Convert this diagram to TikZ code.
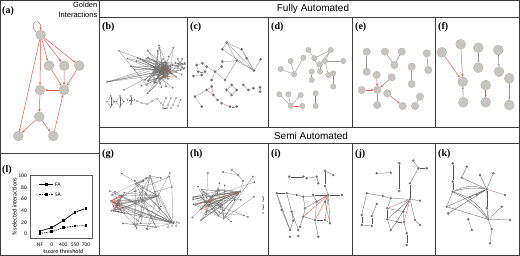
\documentclass[tikz,border=0pt]{standalone}
\usepackage{fontspec}
\setmainfont{Liberation Serif}
\setsansfont{Liberation Sans}
\newfontfamily\calib{Carlito}
\usetikzlibrary{arrows.meta}
\pgfdeclarelayer{paper}
\pgfdeclarelayer{bg}
\pgfsetlayers{paper,bg,main}
\definecolor{frm}{RGB}{60,60,60}
\definecolor{nfill}{RGB}{200,196,192}
\definecolor{redE}{RGB}{225,90,68}
\definecolor{grayE}{RGB}{150,150,150}
\definecolor{darkE}{RGB}{85,85,85}
\definecolor{hairE}{RGB}{105,105,105}
\definecolor{dotc}{RGB}{115,115,115}
\begin{document}
\begin{tikzpicture}[x=1pt,y=-1pt,
  frame/.style={draw=frm,line width=0.8pt},
  plab/.style={font=\bfseries\fontsize{10}{10}\selectfont,anchor=west,inner sep=0},
  head/.style={font=\sffamily\fontsize{10}{10}\selectfont,inner sep=0},
  bignode/.style={circle,fill=nfill,draw=nfill!85!black,line width=0.2pt,inner sep=0,minimum size=#1},
  dotnode/.style={circle,fill=dotc,inner sep=0,minimum size=#1},
  redarrow/.style={draw=redE,line width=0.5pt,-{Stealth[length=2.6pt,width=2.2pt]}},
  grayarrow/.style={draw=grayE,line width=0.6pt,-{Stealth[length=2.4pt,width=2pt]}},
  grayline/.style={draw=grayE,line width=0.6pt},
  thinline/.style={draw=darkE,line width=0.3pt},
  thinred/.style={draw=redE,line width=0.35pt},
  hair/.style={draw=hairE,line width=0.2pt},
  chart/.style={font=\calib\fontsize{5.5}{6}\selectfont,inner sep=0},
  mk/.style={rectangle,fill=black,inner sep=0,minimum size=2.6pt},
]
\useasboundingbox (0,0) rectangle (520,256);
\begin{pgfonlayer}{paper}
\fill[white] (0,0) rectangle (520,256);
\end{pgfonlayer}

% ---------- frames ----------
\draw[frame] (0.5,0.5) rectangle (519.5,255.2);
\draw[frame] (99,0.5) -- (99,255.2);
\draw[frame] (0.5,153) -- (99,153);
\draw[frame] (99,17) -- (519.5,17);
\draw[frame] (99,127) -- (519.5,127);
\draw[frame] (99,143) -- (519.5,143);
\foreach \x in {187,268,352,435}{
  \draw[frame] (\x,17) -- (\x,127);
  \draw[frame] (\x,143) -- (\x,255.2);
}

% ---------- headers and labels ----------
\node[head] (hfa) at (313,9) {Fully Automated};
\node[head] (hsa) at (311,135.5) {Semi Automated};
\node[font=\sffamily\fontsize{7.5}{10}\selectfont,align=right,anchor=north east,inner sep=0] (gold) at (97.5,1.5) {Golden\\Interactions};
\node[plab] (la) at (2,11) {(a)};
\node[plab] (lb) at (102,27) {(b)};
\node[plab] (lc) at (190,27) {(c)};
\node[plab] (ld) at (271,27) {(d)};
\node[plab] (le) at (355,27) {(e)};
\node[plab] (lf) at (438,27) {(f)};
\node[plab] (lg) at (102,154) {(g)};
\node[plab] (lh) at (190,154) {(h)};
\node[plab] (li) at (271,154) {(i)};
\node[plab] (lj) at (355,154) {(j)};
\node[plab] (lk) at (438,154) {(k)};
\node[plab] (ll) at (2,170) {(l)};

% ---------- (a) golden ----------
\foreach \n/\x/\y in {a1/40.7/35, a2/49/65.7, a3/64.3/65.7, a4/79.3/65.7, a5/40/90,
  a6/64/90, a7/39.3/116.7, a8/18.3/136, a9/53.3/136}
  \node[bignode=10pt] (\n) at (\x,\y) {};
\begin{pgfonlayer}{bg}
\draw[redarrow] (a1.150) .. controls +(-10,-11) and +(2,-13) .. (a1.95);
\foreach \a/\b in {a1/a2, a1/a3, a1/a4, a1/a5, a1/a8, a2/a6, a3/a6, a4/a6, a6/a5,
  a5/a7, a7/a8, a7/a9, a9/a6}
  \draw[redarrow] (\a) -- (\b);
\end{pgfonlayer}

% ---------- (f) ----------
\foreach \n/\x/\y in {f1/441.7/52.3, f2/460.7/44.3, f3/478.3/47.7, f4/498.3/50, f5/462.7/81.7,
  f6/478.3/67.7, f7/499/71.7, f8/485.7/85, f9/509.3/78.3, f10/463.3/102.3, f11/485.7/102.3, f12/509.3/105}
  \node[bignode=10pt] (\n) at (\x,\y) {};
\begin{pgfonlayer}{bg}
\foreach \a/\b in {f1/f5, f2/f5, f8/f11} \draw[redarrow] (\a) -- (\b);
\foreach \a/\b in {f3/f6, f4/f7, f10/f5, f9/f12} \draw[grayarrow] (\a) -- (\b);
\end{pgfonlayer}

% ---------- (e) ----------
\foreach \n/\x/\y in {e1/366.7/51.7, e2/385/51.7, e3/401.7/51.7, e4/394.3/65, e5/426.7/53.3,
  e6/428.3/70, e7/366.7/71.7, e8/411.7/66.7, e9/411.7/84, e10/376.7/75, e11/391.7/77.3,
  e12/361.7/90, e13/377.3/90, e14/387.3/93.3, e15/377.3/105, e16/402.7/106, e17/420/96.7, e18/415/106}
  \node[bignode=7.5pt] (\n) at (\x,\y) {};
\begin{pgfonlayer}{bg}
\foreach \a/\b in {e12/e13, e10/e13, e11/e13, e14/e16} \draw[redarrow] (\a) -- (\b);
\foreach \a/\b in {e1/e7, e2/e4, e3/e4, e5/e6, e8/e9, e13/e15, e17/e18} \draw[grayline] (\a) -- (\b);
\end{pgfonlayer}

% ---------- (d) ----------
\foreach \n/\x/\y in {d1/308.3/50, d2/330.7/50, d3/303.3/57.7, d4/290.7/61, d5/280.7/69, d6/294/74.3,
  d7/314.3/58.3, d8/320/64.3, d9/325/61, d10/320/71.7, d11/328.3/75, d12/343.3/61, d13/311.7/71.7,
  d14/311.7/80, d15/333.3/73.3, d16/333.3/86.7, d17/279.3/94.3, d18/288.3/94.3, d19/300.7/95,
  d20/290.7/106, d21/302.3/106, d22/315.7/93.3, d23/315.7/106}
  \node[bignode=5.5pt] (\n) at (\x,\y) {};
\begin{pgfonlayer}{bg}
\foreach \a/\b in {d4/d6, d3/d6, d5/d6, d1/d7, d7/d2, d7/d10, d2/d9, d9/d11, d9/d12, d8/d10,
  d2/d8, d13/d14, d15/d16, d17/d20, d18/d20, d19/d20} \draw[grayline,line width=0.45pt] (\a) -- (\b);
\foreach \a/\b in {d20/d21, d22/d23} \draw[thinred,line width=0.5pt] (\a) -- (\b);
\end{pgfonlayer}

% ---------- (c) ----------
\foreach \n/\x/\y in {c1/226.7/42.7, c2/241.7/49.3, c3/254/70.7, c4/260.7/59.3, c5/236.7/60.7,
  c6/222.3/49.3, c7/222.3/61.7, c8/246.7/58.3, c9/196.7/65, c10/202.3/63.3, c11/206.7/66.7,
  c12/205/71.7, c13/198.3/71.7, c14/201.7/75, c15/193.3/76, c16/215/71.7, c17/225/80,
  c18/211.7/80, c19/221.7/66.7, c20/195/96.7, c21/201.7/106.7, c22/206.7/90, c23/211.7/86.7,
  c24/213.3/95, c25/217.7/100, c26/231.7/85, c27/236.7/90, c28/231.7/95, c29/226.7/90,
  c30/243.3/85, c31/248.3/90, c32/253.3/88.3, c33/260/87.3, c34/260/91.7, c35/221.7/103.3,
  c36/230/106.7, c37/236.7/106.7}
  \node[dotnode=3pt] (\n) at (\x,\y) {};
\begin{pgfonlayer}{bg}
\foreach \a/\b in {c1/c2, c1/c3, c2/c3, c2/c8, c5/c3, c8/c3, c4/c3, c6/c3, c1/c5, c7/c5, c6/c1,
  c9/c10, c10/c11, c11/c12, c12/c13, c13/c9, c12/c14, c14/c15, c11/c16, c16/c19, c19/c7,
  c16/c17, c16/c18, c17/c5, c20/c22, c20/c21, c24/c25, c26/c27, c27/c28, c28/c29, c29/c26,
  c30/c31, c31/c32, c33/c34, c36/c37}
  \draw[thinline,draw=darkE!70] (\a) -- (\b);
\foreach \a/\b in {c22/c23, c24/c23, c22/c24, c35/c36} \draw[thinred] (\a) -- (\b);
\end{pgfonlayer}

% ---------- (b) hairball ----------
\pgfmathsetseed{11}
\foreach \i in {1,...,30}{
  \pgfmathsetmacro\xx{161+10*rand}
  \pgfmathsetmacro\yy{70+9*rand}
  \node[dotnode=2pt] (bc\i) at (\xx,\yy) {};
}
\foreach \i in {1,...,38}{
  \pgfmathsetmacro\aa{360*rnd}
  \pgfmathsetmacro\rr{11+15*rnd}
  \pgfmathsetmacro\xx{154+1.25*\rr*cos(\aa)}
  \pgfmathsetmacro\yy{68+\rr*sin(\aa)}
  \node[dotnode=2pt] (bp\i) at (\xx,\yy) {};
}
\foreach \n/\x/\y in {bs1/107/82, bs2/119/51, bs3/124/90, br1/172/74, br2/176/77, br3/168/79,
  bst0/180/63, bst1/184.5/63, bst2/182.2/59, bst3/177.8/59, bst4/175.5/63, bst5/177.8/67, bst6/182.2/67}
  \node[dotnode=2pt] (\n) at (\x,\y) {};
\begin{pgfonlayer}{bg}
\foreach \i in {1,...,38}{
  \pgfmathtruncatemacro\j{random(1,30)}
  \draw[hair] (bp\i) -- (bc\j);
}
\foreach \i in {1,...,30}{
  \pgfmathtruncatemacro\j{random(1,30)}
  \pgfmathtruncatemacro\k{random(1,30)}
  \pgfmathtruncatemacro\m{random(1,38)}
  \draw[hair] (bc\i) -- (bc\j) (bc\i) -- (bc\k) (bc\i) -- (bp\m);
}
\foreach \a/\b in {bs1/bc1, bs1/bc2, bs1/bc5, bs1/bc9, bs1/bc14, bs2/bc3, bs2/bp1, bs3/bc6,
  bst0/bst1, bst0/bst2, bst0/bst3, bst0/bst4, bst0/bst5, bst0/bst6, bst0/bc7}
  \draw[hair] (\a) -- (\b);
\foreach \a/\b in {bc1/br1, bc2/br2, bc3/br3, bc4/br1, br1/br2, bc8/br2, bc10/br3}
  \draw[thinred] (\a) -- (\b);
\end{pgfonlayer}
% (b) small components
\foreach \n/\x/\y in {bq1/110.7/96, bq2/107/101.7, bq3/114.3/101.7, bq4/110.7/107,
  bq5/120/96, bq6/116.3/101.7, bq7/123.7/101.7, bq8/120/107,
  bt1/131/96, bt2/127.5/100, bt3/134.5/100, bt4/131/104,
  bk1/137/101, bk2/142/103, bk3/147/104, bk4/152/101, bk5/157/99, bk6/161/103,
  bm1/163/105, bm2/166/98, bm3/168/105, bm4/171/98, bm5/173/105, bm6/176/98, bm7/178/106, bm8/180.5/100,
  bz1/163/108, bz2/167/108, bz3/171/108}
  \node[dotnode=1.8pt] (\n) at (\x,\y) {};
\begin{pgfonlayer}{bg}
\foreach \a/\b in {bq1/bq2, bq1/bq3, bq2/bq4, bq3/bq4, bq1/bq4, bq5/bq6, bq5/bq7, bq6/bq8, bq7/bq8, bq5/bq8,
  bt1/bt4, bt2/bt3, bk1/bk2, bk2/bk3, bk3/bk4, bk4/bk5, bk5/bk6, bm1/bm2, bm3/bm4, bm5/bm6, bm7/bm8, bz1/bz2}
  \draw[hair] (\a) -- (\b);
\end{pgfonlayer}

% ---------- (g) ----------
\pgfmathsetseed{7}
\foreach \n/\x/\y in {gh1/158/196, gh2/173/223, gh3/136/184, gh4/111/201, gh5/150/176}
  \node[dotnode=2.4pt] (\n) at (\x,\y) {};
\foreach \i in {1,...,16}{
  \pgfmathsetmacro\xx{118+9*rand}
  \pgfmathsetmacro\yy{201+12*rand}
  \node[dotnode=2pt] (gc\i) at (\xx,\yy) {};
}
\foreach \i in {1,...,32}{
  \pgfmathsetmacro\xx{143+35*rand}
  \pgfmathsetmacro\yy{201+28*rand}
  \node[dotnode=2pt] (gp\i) at (\xx,\yy) {};
}
\foreach \n/\x/\y in {gs1/168/227, gs2/170/222, gs3/172/226, gs4/174/222, gs5/176/226, gs6/177/222, gs7/179/223}
  \node[dotnode=1.6pt] (\n) at (\x,\y) {};
\begin{pgfonlayer}{bg}
\foreach \i in {1,...,16}{
  \pgfmathtruncatemacro\j{random(1,16)}
  \pgfmathtruncatemacro\k{random(1,2)}
  \draw[hair] (gc\i) -- (gh\k) (gc\i) -- (gc\j);
}
\foreach \i in {1,...,32}{
  \pgfmathtruncatemacro\j{random(1,5)}
  \draw[hair] (gp\i) -- (gh\j);
}
\foreach \i in {1,...,12}{
  \pgfmathtruncatemacro\k{random(1,32)}
  \draw[hair] (gp\i) -- (gp\k);
}
\foreach \i in {1,...,8}{
  \draw[thinred] (gc\i) -- (gh4);
}
\foreach \a/\b in {gh1/gh2, gh3/gh2, gh5/gh2, gh3/gh1, gs1/gs2, gs3/gs4, gs5/gs6}
  \draw[hair] (\a) -- (\b);
\end{pgfonlayer}

% ---------- (h) ----------
\pgfmathsetseed{23}
\foreach \n/\x/\y in {hh1/240/191.7, hh2/222/205, ht1/223/172, ht2/238/175, ht3/243/181, ht4/232/170}
  \node[dotnode=2.4pt] (\n) at (\x,\y) {};
\foreach \i in {1,...,22}{
  \pgfmathsetmacro\xx{210+17*rand}
  \pgfmathsetmacro\yy{206+17*rand}
  \node[dotnode=2pt] (hc\i) at (\xx,\yy) {};
}
\foreach \i in {1,...,16}{
  \pgfmathsetmacro\xx{224+33*rand}
  \pgfmathsetmacro\yy{199+27*rand}
  \node[dotnode=2pt] (hp\i) at (\xx,\yy) {};
}
\foreach \n/\x/\y in {hv1/263/197, hv2/263/201, hv3/263/205, hv4/263/209, hv5/263/213}
  \node[dotnode=1.8pt] (\n) at (\x,\y) {};
\begin{pgfonlayer}{bg}
\foreach \i in {1,...,22}{
  \pgfmathtruncatemacro\j{random(1,22)}
  \draw[hair] (hc\i) -- (hh1) (hc\i) -- (hc\j);
}
\foreach \i in {1,...,16}{
  \pgfmathtruncatemacro\j{random(1,22)}
  \draw[hair] (hp\i) -- (hc\j);
}
\foreach \i in {1,...,8}{
  \draw[hair] (hc\i) -- (hh2);
}
\foreach \a/\b in {ht1/ht2, ht2/ht3, ht4/ht2, ht3/hh1, hv1/hv2, hv3/hv4}
  \draw[hair] (\a) -- (\b);
\draw[thinred] (hh1) -- (hc3) (hc5) -- (hc9);
\end{pgfonlayer}

% ---------- (i) ----------
\foreach \n/\x/\y in {i1/289.3/176.7, i2/303.3/176.7, i3/276.7/193.3, i4/286.7/193.3, i5/296.7/195,
  i6/281.7/210, i7/291.7/211.7, i8/290/230, i9/298.3/230, i10/290/236.7, i11/298.3/236,
  i12/293.3/220.7, i13/316.7/176.7, i14/325/170.7, i15/325/186, i16/333.3/175, i17/306.7/178.3,
  i18/318.3/183.3, i19/328.3/195, i20/341.7/195, i21/313.3/195, i22/303.3/196.7, i23/305/208.3,
  i24/316.7/201.7, i25/325/201.7, i26/303.3/216.7, i27/315/220, i28/325/220, i29/330/223.3,
  i30/318.3/236.7, i31/300/226.7}
  \node[dotnode=2.8pt] (\n) at (\x,\y) {};
\begin{pgfonlayer}{bg}
\foreach \a/\b in {i1/i2, i3/i6, i6/i8, i4/i7, i7/i9, i3/i4, i4/i5, i5/i22, i8/i12, i12/i7,
  i22/i19, i21/i19, i19/i20, i14/i15, i15/i19, i13/i18, i17/i13, i16/i14, i19/i23, i19/i28,
  i19/i29, i23/i26, i26/i27, i27/i28, i28/i29, i27/i30, i31/i26, i22/i23, i21/i24, i3/i8}
  \draw[thinline] (\a) -- (\b);
\foreach \a/\b in {i19/i26, i19/i27, i24/i27, i25/i29, i19/i24, i19/i25}
  \draw[thinred] (\a) -- (\b);
\end{pgfonlayer}

% ---------- (j) ----------
\foreach \n/\x/\y in {j1/376.7/173.3, j2/390.7/172.7, j3/399.3/163.3, j4/399.3/191, j5/413.3/160.7,
  j6/418.3/168.3, j7/426.7/168.3, j8/410/183.3, j9/366.7/193.3, j10/382.7/196, j11/390.7/198.3,
  j12/410/199.3, j13/420/200.7, j14/361.7/215, j15/376.7/204, j16/387.3/208.3, j17/371.7/216,
  j18/371.7/226, j19/361.7/225, j20/387.3/219.3, j21/403.3/211.7, j22/415/220, j23/396.7/221.7,
  j24/404/221.7, j25/420/225, j26/390.7/230, j27/406.7/233.3, j28/406.7/245}
  \node[dotnode=2.8pt] (\n) at (\x,\y) {};
\begin{pgfonlayer}{bg}
\foreach \a/\b in {j1/j2, j3/j4, j5/j6, j6/j7, j6/j8, j8/j12, j9/j14, j14/j19, j9/j10, j15/j17,
  j17/j18, j18/j19, j10/j11, j11/j12, j12/j13, j12/j20, j12/j23, j12/j22, j16/j20, j20/j23,
  j20/j26, j23/j26, j24/j27, j27/j28, j22/j25, j23/j24, j11/j16, j12/j21, j16/j21}
  \draw[thinline] (\a) -- (\b);
\foreach \a/\b in {j12/j16, j12/j24, j21/j24}
  \draw[thinred] (\a) -- (\b);
\end{pgfonlayer}

% ---------- (k) ----------
\foreach \n/\x/\y in {k1/452.7/163.3, k2/466.7/166.7, k3/461.7/177.7, k4/480/175, k5/493.3/173.3,
  k6/452.7/181.7, k7/486.7/189.3, k8/452.7/191.7, k9/470/196.7, k10/476.7/195, k11/505/195,
  k12/446.7/206.7, k13/448.3/213.3, k14/486.7/208.3, k15/501.7/206.7, k16/468.3/219.3,
  k17/471.7/230, k18/488.3/219.3, k19/491.7/229.3, k20/490/243.3, k21/510/220}
  \node[dotnode=2.8pt] (\n) at (\x,\y) {};
\begin{pgfonlayer}{bg}
\foreach \a/\b in {k1/k6, k6/k8, k2/k3, k3/k7, k4/k7, k5/k7, k7/k12, k7/k9, k7/k14, k7/k18,
  k8/k12, k12/k18, k13/k7, k18/k19, k19/k20, k18/k21, k16/k17, k14/k18, k10/k7}
  \draw[thinline] (\a) -- (\b);
\draw[thinline] (k7) to[bend right=12] (k8);
\draw[thinline] (k7) to[bend right=22] (k8);
\draw[thinline] (k8) to[bend left=10] (k18);
\draw[thinline] (k8) to[bend left=20] (k18);
\foreach \a/\b in {k7/k11, k15/k18}
  \draw[thinred] (\a) -- (\b);
\end{pgfonlayer}

% ---------- (l) chart ----------
\draw[draw=gray!70!black,line width=0.4pt] (30,175.7) rectangle (91.7,238.5);
\foreach \v/\y in {100/175.7, 80/187.3, 60/199, 40/210.7, 20/222.3, 0/234}
  \node[chart,anchor=east] (yt\v) at (27,\y) {\v};
\foreach \n/\t/\x in {x1/NF/40, x2/0/51.7, x3/400/63.3, x4/550/75, x5/700/86}
  \node[chart] (\n) at (\x,244.3) {\t};
\node[chart,font=\calib\fontsize{6}{6}\selectfont] (xtitle) at (63.3,251) {tscore threshold};
\node[chart,font=\calib\fontsize{6.2}{6}\selectfont,rotate=90] (ytitle) at (14.5,207) {\% selected interactions};
\foreach \n/\x/\y in {fa1/40/231, fa2/51.7/227.7, fa3/63.3/220.7, fa4/75/212.3, fa5/86/208.3}
  \node[mk] (\n) at (\x,\y) {};
\foreach \n/\x/\y in {sa1/40/233.3, sa2/51.7/231.7, sa3/63.3/227.7, sa4/75/226, sa5/86/225.7}
  \node[mk] (\n) at (\x,\y) {};
\draw[line width=0.7pt] (fa1) -- (fa2) -- (fa3) -- (fa4) -- (fa5);
\draw[line width=0.7pt,dash pattern=on 1.4pt off 1pt] (sa1) -- (sa2) -- (sa3) -- (sa4) -- (sa5);
\node[mk] (lfa) at (46.3,184.3) {};
\coordinate (lfaA) at (39.3,184.3);
\coordinate (lfaB) at (53.3,184.3);
\draw[line width=0.7pt] (lfaA) -- (lfaB);
\node[chart,anchor=west] (tfa) at (55,184.3) {FA};
\node[mk] (lsa) at (46.3,194.3) {};
\coordinate (lsaA) at (39.3,194.3);
\coordinate (lsaB) at (53.3,194.3);
\draw[line width=0.7pt,dash pattern=on 1.4pt off 1pt] (lsaA) -- (lsaB);
\node[chart,anchor=west] (tsa) at (55,194.3) {SA};
\end{tikzpicture}
\end{document}
